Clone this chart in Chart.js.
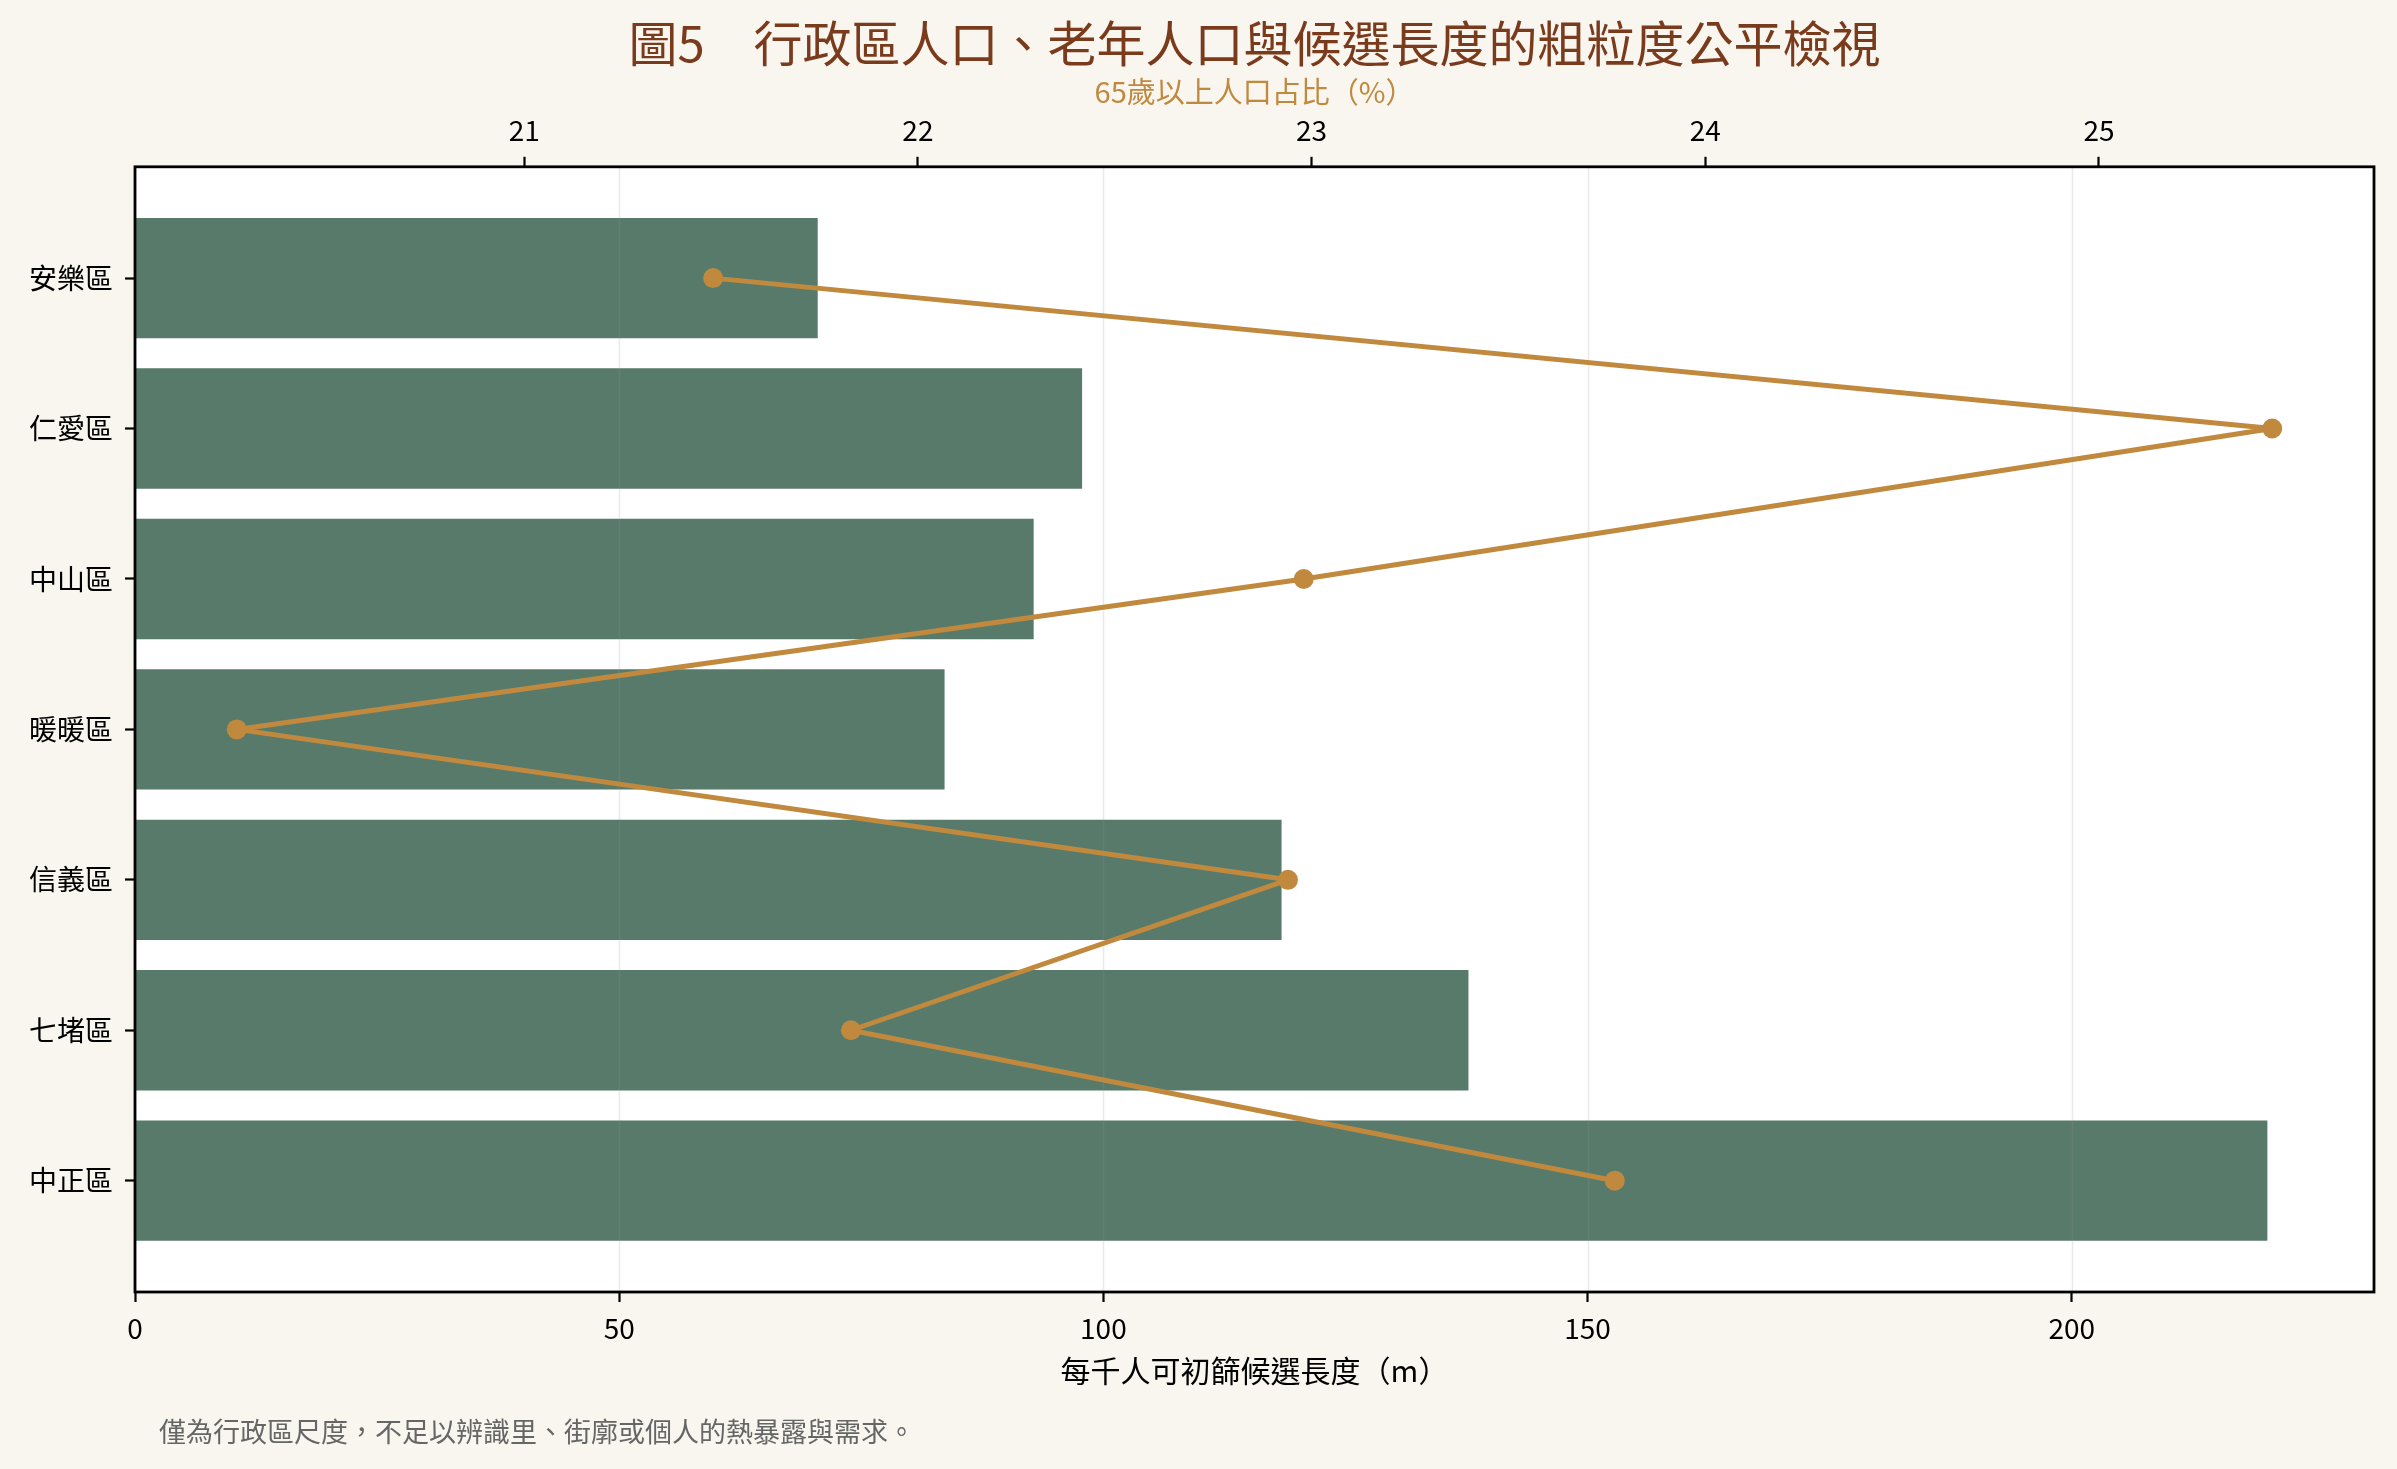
<!DOCTYPE html>
<html>
<head>
<meta charset="utf-8">
<script src="https://cdn.jsdelivr.net/npm/chart.js@4.4.1/dist/chart.umd.min.js"></script>
<style>
  html, body { margin: 0; padding: 0; background: #f9f5ef; }
  #wrap { width: 2397px; height: 1469px; position: relative; }
</style>
</head>
<body>
<div id="wrap"><canvas id="fairChart"></canvas></div>
<script>
const districts = ['安樂區', '仁愛區', '中山區', '暖暖區', '信義區', '七堵區', '中正區'];
const lengthPerThousand = [70.5, 97.8, 92.8, 83.6, 118.4, 137.7, 220.2];
const elderlyShare = [21.48, 25.44, 22.98, 20.27, 22.94, 21.83, 23.77];
const lengthTicks = [0, 50, 100, 150, 200];
const shareTicks = [21, 22, 23, 24, 25];

const titleText = '圖5　行政區人口、老年人口與候選長度的粗粒度公平檢視';
const noteText = '僅為行政區尺度，不足以辨識里、街廓或個人的熱暴露與需求。';

const GREEN = '#577a6b';
const GOLD = '#c0893e';
const BROWN = '#7a3b1c';

Chart.defaults.font.family = '"Noto Sans CJK TC", "Noto Sans", sans-serif';
Chart.defaults.color = '#000';

// matplotlib-like 5% margins
const lenMax = Math.max(...lengthPerThousand) * 1.05;
const shMin = Math.min(...elderlyShare), shMax = Math.max(...elderlyShare);
const shPad = (shMax - shMin) * 0.05;
const yPad = (districts.length - 1 + 0.8) * 0.05;

const framePlugin = {
  id: 'frame',
  beforeDraw(chart) {
    const { ctx, chartArea: a } = chart;
    ctx.save();
    ctx.fillStyle = '#f9f5ef';
    ctx.fillRect(0, 0, chart.width, chart.height);
    ctx.fillStyle = '#ffffff';
    ctx.fillRect(a.left, a.top, a.right - a.left, a.bottom - a.top);
    ctx.restore();
  },
  afterDatasetDraw(chart, args) {
    if (args.meta.type !== 'bar') return;
    const { ctx, chartArea: a } = chart;
    const xs = chart.scales.x;
    ctx.save();
    ctx.strokeStyle = 'rgba(150,150,150,0.2)';
    ctx.lineWidth = 1.6;
    lengthTicks.forEach(t => {
      const px = Math.round(xs.getPixelForValue(t)) + 0.5;
      ctx.beginPath();
      ctx.moveTo(px, a.top);
      ctx.lineTo(px, a.bottom);
      ctx.stroke();
    });
    ctx.restore();
  },
  afterDraw(chart) {
    const { ctx, chartArea: a } = chart;
    ctx.save();
    ctx.strokeStyle = '#000';
    ctx.lineWidth = 2.8;
    ctx.strokeRect(a.left, a.top, a.right - a.left, a.bottom - a.top);
    ctx.fillStyle = '#666';
    ctx.font = '27px "Noto Sans CJK TC", sans-serif';
    ctx.textBaseline = 'middle';
    ctx.textAlign = 'left';
    ctx.fillText(noteText, 159, 1432);
    ctx.restore();
  }
};

const ctx = document.getElementById('fairChart').getContext('2d');
const fairChart = new Chart(ctx, {
  data: {
    datasets: [
      {
        type: 'line',
        label: '65歲以上人口占比',
        data: elderlyShare.map((v, i) => ({ x: v, y: i })),
        xAxisID: 'x2',
        yAxisID: 'y',
        borderColor: GOLD,
        backgroundColor: GOLD,
        borderWidth: 5,
        borderJoinStyle: 'round',
        borderCapStyle: 'round',
        pointRadius: 10,
        pointBorderWidth: 0,
        pointBackgroundColor: GOLD,
        tension: 0,
        order: 0
      },
      {
        type: 'bar',
        label: '每千人可初篩候選長度',
        data: lengthPerThousand.map((v, i) => ({ x: v, y: i })),
        xAxisID: 'x',
        yAxisID: 'y',
        backgroundColor: GREEN,
        barPercentage: 0.8,
        categoryPercentage: 1,
        order: 1
      }
    ]
  },
  options: {
    indexAxis: 'y',
    responsive: true,
    maintainAspectRatio: false,
    devicePixelRatio: 1,
    animation: false,
    layout: { padding: { left: 0, right: 23, top: 0, bottom: 80 } },
    plugins: {
      legend: { display: false },
      tooltip: { enabled: false },
      title: {
        display: true,
        fullSize: false,
        text: titleText,
        color: BROWN,
        font: { size: 49, weight: 'normal' },
        padding: { top: 14, bottom: 2 }
      }
    },
    scales: {
      x: {
        type: 'linear',
        axis: 'x',
        position: 'bottom',
        min: 0,
        max: lenMax,
        afterBuildTicks: s => { s.ticks = lengthTicks.map(v => ({ value: v })); },
        afterFit: s => { s.height = 97; },
        border: { display: false },
        grid: { drawOnChartArea: false, drawTicks: true, tickLength: 10, tickColor: '#000', tickWidth: 2.2 },
        ticks: { font: { size: 28 }, color: '#000', padding: 10 },
        title: {
          display: true,
          text: '每千人可初篩候選長度（m）',
          color: '#000',
          font: { size: 30 },
          padding: { top: 0, bottom: 0 }
        }
      },
      x2: {
        type: 'linear',
        axis: 'x',
        position: 'top',
        min: shMin - shPad,
        max: shMax + shPad,
        afterBuildTicks: s => { s.ticks = shareTicks.map(v => ({ value: v })); },
        afterFit: s => { s.height = 92; },
        border: { display: false },
        grid: { drawOnChartArea: false, drawTicks: true, tickLength: 10, tickColor: '#000', tickWidth: 2.2 },
        ticks: { font: { size: 28 }, color: '#000', padding: 10 },
        title: {
          display: true,
          text: '65歲以上人口占比（%）',
          color: GOLD,
          font: { size: 29 },
          padding: { top: 0, bottom: 0 }
        }
      },
      y: {
        type: 'linear',
        axis: 'y',
        reverse: true,
        offset: false,
        min: -0.4 - yPad,
        max: districts.length - 1 + 0.4 + yPad,
        afterBuildTicks: s => { s.ticks = districts.map((d, i) => ({ value: i })); },
        afterFit: s => { s.width = 135; },
        border: { display: false },
        grid: { offset: false, drawOnChartArea: false, drawTicks: true, tickLength: 10, tickColor: '#000', tickWidth: 2.2 },
        ticks: {
          font: { size: 28 },
          color: '#000',
          padding: 12,
          callback: v => districts[v]
        }
      }
    }
  },
  plugins: [framePlugin]
});
</script>
</body>
</html>
